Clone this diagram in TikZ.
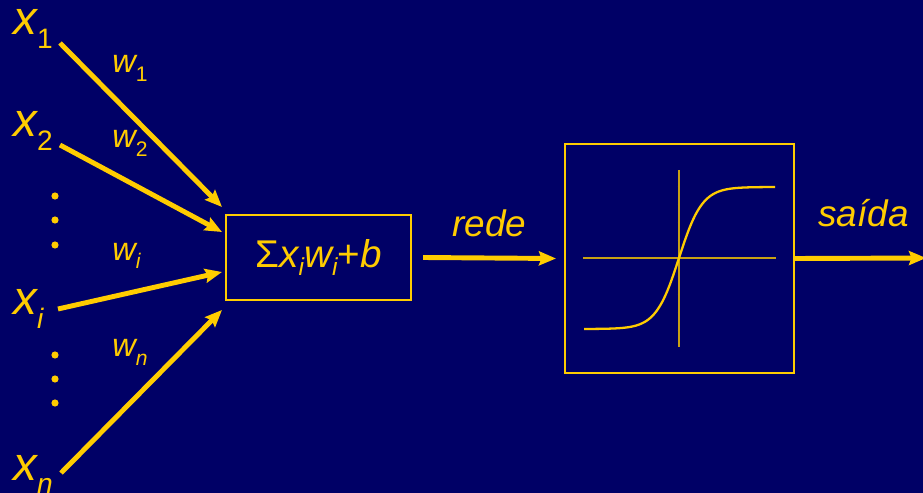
\documentclass[tikz,border=0pt]{standalone}
\usepackage{fontspec}
\setmainfont{Liberation Sans}
\usepackage{tikz}
\usetikzlibrary{arrows.meta}

\definecolor{navy}{RGB}{0,0,102}
\definecolor{gold}{RGB}{255,204,0}
\definecolor{axisgold}{RGB}{200,160,20}

\newcommand{\xlab}[1]{{\fontsize{27}{30}\selectfont\itshape x\raisebox{-7.5pt}{\fontsize{16}{18}\selectfont #1}}}
\newcommand{\wlab}[1]{{\fontsize{18.5}{20}\selectfont\itshape w\raisebox{-5pt}{\fontsize{12}{14}\selectfont #1}}}

\begin{document}
\begin{tikzpicture}[x=0.02cm,y=-0.02cm,
	lab/.style={gold,inner sep=0pt,anchor=base west},
	wire/.style={gold,line width=2.8pt,-{Stealth[length=0.34cm,width=0.28cm,inset=0.05cm]}},
	blk/.style={draw=gold,line width=1.2pt,inner sep=0pt,text=gold}]
						\fill[navy] (0,0) rectangle (923,493);
						\useasboundingbox (0,0) rectangle (923,493);
						
						\node[lab] (x1) at (13,35) {\xlab{\upshape 1}};
						\node[lab] (x2) at (13,137) {\xlab{\upshape 2}};
						\node[lab] (xi) at (13,315) {\xlab{i}};
						\node[lab] (xn) at (13,480) {\xlab{n}};
						
						\node[lab] (w1) at (112,73) {\wlab{\upshape 1}};
						\node[lab] (w2) at (112,148) {\wlab{\upshape 2}};
						\node[lab] (wi) at (112,260) {\wlab{i}};
						\node[lab] (wn) at (112,357) {\wlab{n}};
						
						\node[blk,minimum width=3.7cm,minimum height=1.7cm] (sum) at (318.5,257.5)
							{\fontsize{22}{24}\selectfont Σ\textit{x\raisebox{-4.5pt}{\fontsize{14}{16}\selectfont i}w\raisebox{-4.5pt}{\fontsize{14}{16}\selectfont i}}+\textit{b}};
						\node[blk,minimum width=4.58cm,minimum height=4.58cm] (act) at (679.5,258.5) {};
						
						\node[lab] (rede) at (452,237) {\fontsize{21}{24}\selectfont\itshape rede};
						\node[lab] (saida) at (818,227) {\fontsize{21}{24}\selectfont\itshape saída};
						
						\coordinate (s1) at (60,43);
						\coordinate (e1) at (222,207);
						\coordinate (s2) at (60,145);
						\coordinate (e2) at (222,232);
						\coordinate (si) at (58,309);
						\coordinate (ei) at (222,272);
						\coordinate (sn) at (61,473);
						\coordinate (en) at (222,310);
						\coordinate (out) at (926,258);
						
						\draw[wire] (s1)--(e1);
						\draw[wire] (s2)--(e2);
						\draw[wire] (si)--(ei);
						\draw[wire] (sn)--(en);
						\draw[wire] ([xshift=0.22cm]sum.east)--([xshift=-0.16cm]act.west);
						\draw[wire] (act.east)--(out);
						
						\foreach \y in {196,220,245,355,379,403}
							\fill[gold] (55,\y) circle (3.6);
						
						% eixos e sigmoide
						\draw[axisgold,line width=0.6pt] (584,258)--(775,258);
						\draw[axisgold,line width=0.6pt] (679,170)--(679,347);
						\foreach \k in {-4,...,4}
							\draw[axisgold,line width=0.4pt] (679+24*\k,257)--(679+24*\k,259.5);
						\foreach \k in {-4,...,4}
							\draw[axisgold,line width=0.4pt] (677.5,258+18*\k)--(680,258+18*\k);
						\draw[gold,line width=1.3pt] plot[domain=-95:96,samples=90,smooth]
							({679+\x},{258-71*tanh(0.043*\x)});
					\end{tikzpicture}
\end{document}
